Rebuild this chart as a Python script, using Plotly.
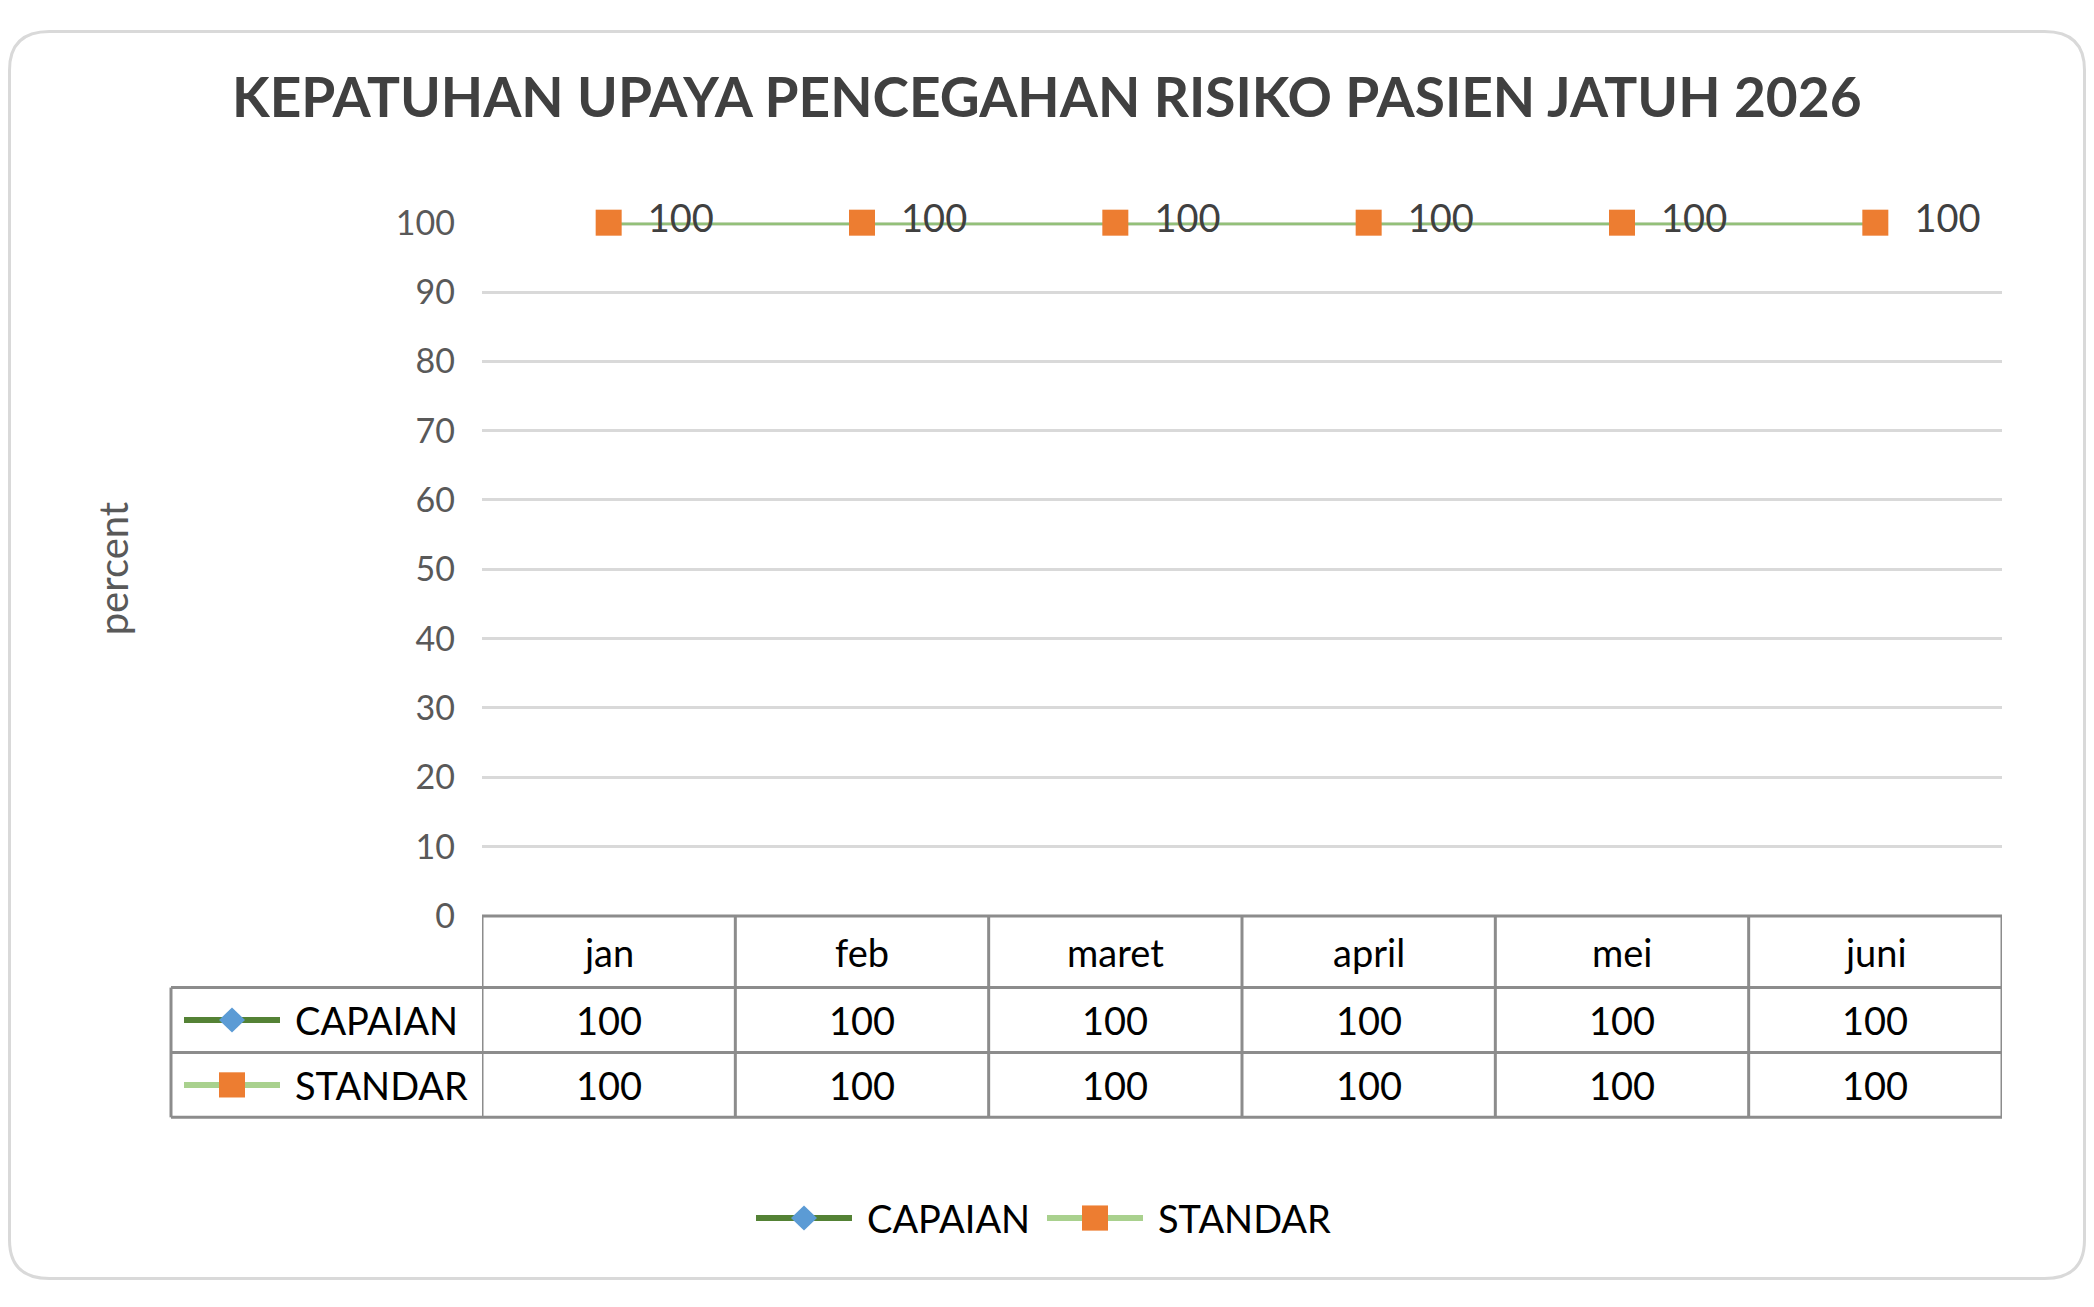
import plotly.graph_objects as go

# data
bulan = ["jan", "feb", "maret", "april", "mei", "juni"]
capaian = [100, 100, 100, 100, 100, 100]
standar = [100, 100, 100, 100, 100, 100]
y_ticks = [0, 10, 20, 30, 40, 50, 60, 70, 80, 90, 100]
judul = "KEPATUHAN UPAYA PENCEGAHAN RISIKO PASIEN JATUH 2026"

# page is 2094x1307 with an 8px body margin, so keep the figure inside it
OFF = 8
W, H = 2094 - 2 * OFF, 1307 - 2 * OFF
FONT = "Lato"
HIJAU_TUA = "#548235"
HIJAU_MUDA = "#a9d18e"
BIRU = "#5b9bd5"
ORANYE = "#ed7d31"
GARIS_TABEL = "#8c8c8c"

# plot area / table, in page pixels
X0, X1 = 482, 2002
Y_TOP, Y_BOT = 207, 923
ROW1, ROW2, ROW3 = 997, 1064, 1131
TBL_LEFT = 171


def px(x):
    return (x - OFF) / W


def py(y):
    return 1 - (y - OFF) / H


fig = go.Figure()

fig.add_trace(go.Scatter(
    x=bulan, y=capaian, name="CAPAIAN", mode="lines+markers",
    line=dict(color=HIJAU_TUA, width=5),
    marker=dict(symbol="diamond", size=18, color=BIRU),
    cliponaxis=False, showlegend=False))
fig.add_trace(go.Scatter(
    x=bulan, y=standar, name="STANDAR", mode="lines+markers+text",
    line=dict(color="#93c079", width=4.5),
    marker=dict(symbol="square", size=26, color=ORANYE),
    text=[f"  \u200a{v}" for v in standar], textposition="middle right",
    textfont=dict(family=FONT, size=38, color="#404040"),
    cliponaxis=False, showlegend=False))

shapes = []
annotations = []


def line(xa, ya, xb, yb, color=GARIS_TABEL, width=3):
    shapes.append(dict(type="line", xref="paper", yref="paper",
                       x0=px(xa), x1=px(xb), y0=py(ya), y1=py(yb),
                       line=dict(color=color, width=width)))


def P(a, b):
    return f"{px(a)},{py(b)}"


def text(x, y, s, font, xref="paper", xanchor="center", **kw):
    annotations.append(dict(x=x, y=py(y), xref=xref, yref="paper", text=s,
                            xanchor=xanchor, yanchor="middle", showarrow=False,
                            font=font, **kw))


# outer rounded frame
r = 40
fx0, fy0, fx1, fy1 = OFF + 1.5, OFF + 1.5, OFF + W - 1.5, OFF + H - 1.5
frame = (f"M {P(fx0+r, fy0)} L {P(fx1-r, fy0)} Q {P(fx1, fy0)} {P(fx1, fy0+r)} "
         f"L {P(fx1, fy1-r)} Q {P(fx1, fy1)} {P(fx1-r, fy1)} L {P(fx0+r, fy1)} "
         f"Q {P(fx0, fy1)} {P(fx0, fy1-r)} L {P(fx0, fy0+r)} Q {P(fx0, fy0)} {P(fx0+r, fy0)} Z")
shapes.append(dict(type="path", xref="paper", yref="paper", path=frame,
                   line=dict(color="#d9d9d9", width=3), layer="below"))

# data table grid
line(X0, Y_BOT, X1, Y_BOT)
for yy in (ROW1, ROW2, ROW3):
    line(TBL_LEFT, yy, X1, yy)
line(TBL_LEFT, ROW1, TBL_LEFT, ROW3)
for i in range(len(bulan) + 1):
    shapes.append(dict(type="line", xref="x", yref="paper", x0=i - 0.5, x1=i - 0.5,
                       y0=py(Y_BOT), y1=py(ROW3), line=dict(color=GARIS_TABEL, width=3)))

# table text
cell_font = dict(family=FONT, size=38, color="#000")
for i, b in enumerate(bulan):
    text(b, (Y_BOT + ROW1) / 2, b, cell_font, xref="x")
    text(b, (ROW1 + ROW2) / 2, str(capaian[i]), cell_font, xref="x")
    text(b, (ROW2 + ROW3) / 2, str(standar[i]), cell_font, xref="x")


def legend_item(x_line, y, label, line_color, symbol, marker_color):
    line(x_line, y, x_line + 96, y, color=line_color, width=6)
    cx, h = x_line + 48, 13
    if symbol == "diamond":
        pts = [(cx, y - h), (cx + h, y), (cx, y + h), (cx - h, y)]
    else:
        pts = [(cx - h, y - h), (cx + h, y - h), (cx + h, y + h), (cx - h, y + h)]
    d = "M " + " L ".join(P(a, b) for a, b in pts) + " Z"
    shapes.append(dict(type="path", xref="paper", yref="paper", path=d,
                       fillcolor=marker_color, line=dict(width=0)))
    text(px(x_line + 109), y, label, cell_font, xanchor="left")


# legend keys inside table
legend_item(184, (ROW1 + ROW2) / 2, "CAPAIAN", HIJAU_TUA, "diamond", BIRU)
legend_item(184, (ROW2 + ROW3) / 2, "STANDAR", HIJAU_MUDA, "square", ORANYE)
# bottom legend
legend_item(756, 1235, "CAPAIAN", HIJAU_TUA, "diamond", BIRU)
legend_item(1047, 1235, "STANDAR", HIJAU_MUDA, "square", ORANYE)

# title and axis title
text(px(1047), 76, f"<b>{judul}</b>", dict(family=FONT, size=55, color="#404040"))
text(px(113), 564, "percent", dict(family=FONT, size=40, color="#595959"), textangle=-90)

fig.update_layout(
    width=W, height=H,
    margin=dict(l=0, r=0, t=0, b=0),
    paper_bgcolor="white", plot_bgcolor="white",
    xaxis=dict(domain=[px(X0), px(X1)], range=[-0.5, len(bulan) - 0.5],
               showticklabels=False, showgrid=False, zeroline=False, showline=False),
    yaxis=dict(domain=[py(Y_BOT), py(Y_TOP)], range=[0, 100],
               tickvals=y_ticks, showgrid=True, gridcolor="#d9d9d9", gridwidth=2.5,
               zeroline=False, showline=False, ticks="", ticklabelstandoff=26,
               tickfont=dict(family=FONT, size=34, color="#595959")),
    shapes=shapes, annotations=annotations,
)

fig.write_html("out.html")
